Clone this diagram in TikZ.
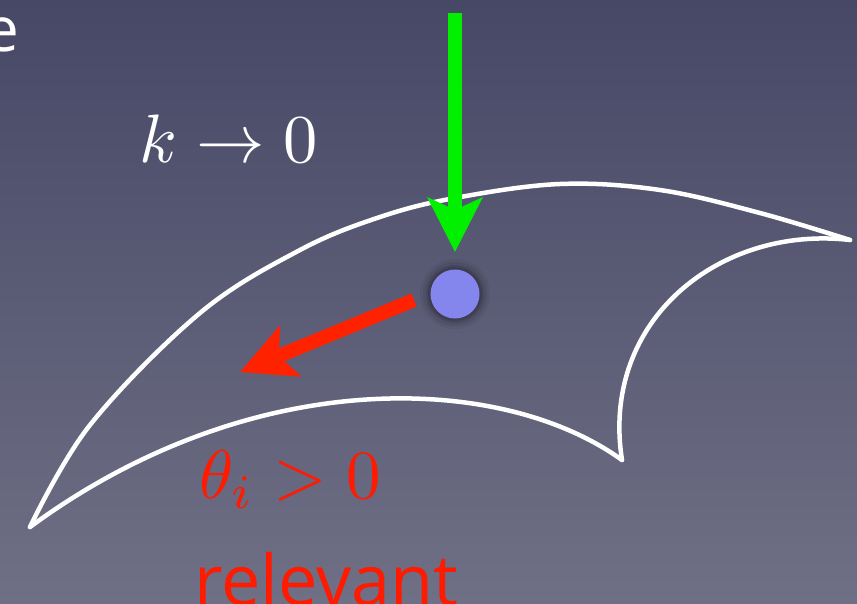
\documentclass[tikz,border=0pt]{standalone}
\usepackage{fontspec}
\setsansfont{Open Sans}
\usetikzlibrary{arrows.meta}
\definecolor{bgtop}{HTML}{474866}
\definecolor{bgbot}{HTML}{6F6F85}
\definecolor{dotblue}{HTML}{8585EE}
\definecolor{arrgreen}{HTML}{00F000}
\definecolor{arrred}{HTML}{FF2200}
\definecolor{txtred}{HTML}{FF1A00}
\tikzset{
  wing/.style={draw=white, line width=4.5pt, line cap=round, line join=round},
  bigarrow/.style={line width=14pt, -{Stealth[length=54pt, width=54pt, inset=12pt]}},
  bigtext/.style={inner sep=0pt},
  sanstext/.style={inner sep=0pt, font=\sffamily\fontsize{70}{76}\selectfont}
}
\begin{document}
\begin{tikzpicture}[x=1pt, y=-1pt]
\useasboundingbox (0,0) rectangle (857,603);
\clip (0,0) rectangle (857,603);
\shade[top color=bgtop, bottom color=bgbot] (0,0) rectangle (857,603);

% wing-shaped region
\draw[wing] plot[smooth, tension=0.6] coordinates {(30,527) (90,425) (200,313) (300,250) (380,217) (455,198) (560,184) (660,190) (760,213) (850,240)};
\draw[wing] (850,240) .. controls (720,225) and (600,320) .. (622,460);
\draw[wing] (622,460) .. controls (500,372) and (250,365) .. (30,527);

% point with shadow
\foreach \r/\o in {35/0.05, 32/0.07, 29/0.1, 27/0.12} {
  \fill[black, opacity=\o] (455,294) circle (\r pt);
}
\node[circle, fill=dotblue, minimum size=49pt, inner sep=0pt] (dot) at (455,294) {};

% arrows
\coordinate (gs) at (455,13);
\coordinate (gt) at (455,252);
\draw[bigarrow, arrgreen] (gs) -- (gt);
\coordinate (rs) at (414,300);
\coordinate (rt) at (240,372);
\draw[bigarrow, arrred] (rs) -- (rt);

% texts
\node[bigtext, white, anchor=base west] (klim) at (139,162) {\scalebox{6.85}{$k\to0$}};
\node[bigtext, txtred, anchor=base west] (theta) at (199,498) {\scalebox{6.9}{$\theta_i>0$}};
\node[sanstext, txtred, anchor=base west] (rel) at (194,605) {relevant};
\node[inner sep=0pt, font=\sffamily\fontsize{62}{68}\selectfont, white, anchor=base east] (etext) at (19,51) {e};
\end{tikzpicture}
\end{document}
